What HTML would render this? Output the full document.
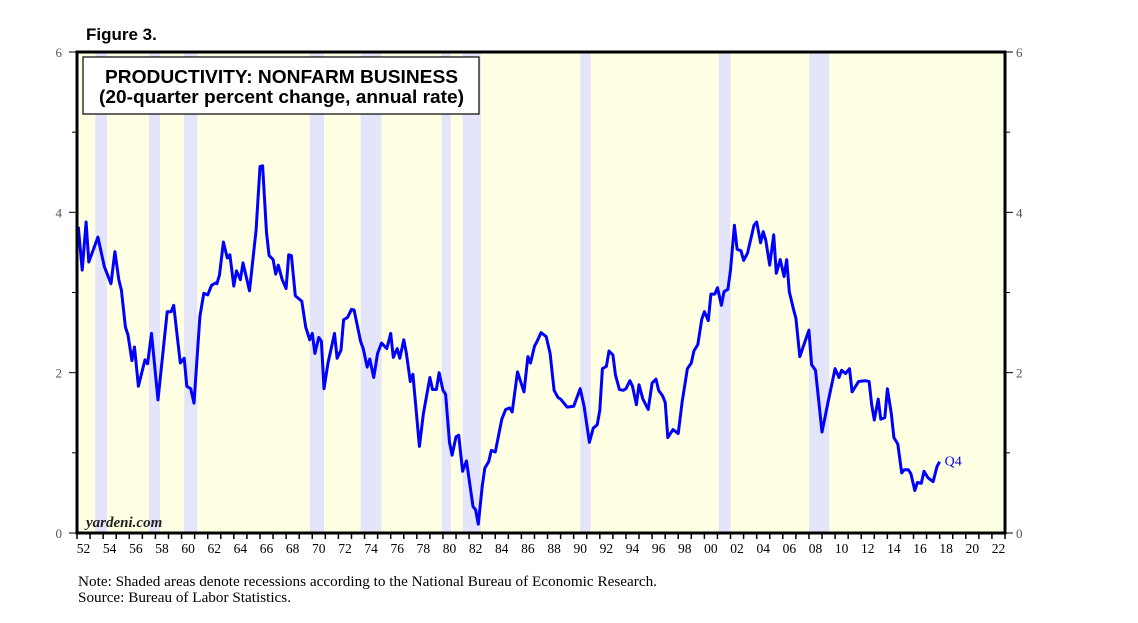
<!DOCTYPE html>
<html><head><meta charset="utf-8"><style>
body{margin:0;background:#fff;width:1138px;height:623px;overflow:hidden;font-family:"Liberation Sans",sans-serif}
svg{position:absolute;left:0;top:0}
</style></head><body>
<svg id="c" width="1138" height="623">
<text x="86" y="40" font-family="Liberation Sans" font-weight="bold" font-size="17">Figure 3.</text>
<rect x="77" y="52" width="928" height="481" fill="#ffffe4"/>
<g id="rec"></g>
<g id="axes"></g>
<polyline id="line" fill="none" stroke="#0000ff" stroke-width="3" stroke-linejoin="round"/>
<rect x="77" y="52" width="928" height="481" fill="none" stroke="#000" stroke-width="3"/>
<rect x="83" y="57" width="396" height="57" fill="#fff" stroke="#000" stroke-width="1.2"/>
<text x="105" y="83" textLength="353" lengthAdjust="spacingAndGlyphs" font-weight="bold" font-size="18">PRODUCTIVITY: NONFARM BUSINESS</text>
<text x="99" y="103" textLength="365" lengthAdjust="spacingAndGlyphs" font-weight="bold" font-size="18">(20-quarter percent change, annual rate)</text>
<text x="86" y="527" font-family="Liberation Serif" font-style="italic" font-weight="bold" font-size="15" fill="#222">yardeni.com</text>
<text id="q4" font-family="Liberation Serif" font-size="14" fill="#0000ff">Q4</text>
<text x="78" y="586" textLength="579" lengthAdjust="spacingAndGlyphs" font-family="Liberation Serif" font-size="14.5">Note: Shaded areas denote recessions according to the National Bureau of Economic Research.</text>
<text x="78" y="602" textLength="213" lengthAdjust="spacingAndGlyphs" font-family="Liberation Serif" font-size="14.5">Source: Bureau of Labor Statistics.</text>
</svg>
<script>
const years=[1952.1,1952.4,1952.7,1952.9,1953.6,1954.1,1954.6,1954.9,1955.2,1955.4,1955.7,1955.9,1956.2,1956.4,1956.7,1957.2,1957.4,1957.7,1958.2,1958.9,1959.2,1959.4,1959.9,1960.2,1960.4,1960.7,1960.95,1961.4,1961.7,1962.0,1962.3,1962.6,1962.7,1962.9,1963.2,1963.5,1963.7,1964.0,1964.2,1964.5,1964.7,1965.2,1965.7,1966.0,1966.2,1966.5,1966.7,1967.0,1967.2,1967.4,1967.7,1968.0,1968.2,1968.4,1968.7,1969.2,1969.5,1969.8,1970.0,1970.2,1970.5,1970.7,1970.9,1971.2,1971.7,1971.9,1972.2,1972.4,1972.7,1973.0,1973.2,1973.7,1973.9,1974.2,1974.4,1974.7,1975.0,1975.3,1975.7,1976.0,1976.2,1976.5,1976.7,1977.0,1977.2,1977.5,1977.7,1978.2,1978.5,1979.0,1979.2,1979.5,1979.7,1980.0,1980.2,1980.5,1980.7,1981.0,1981.2,1981.5,1981.8,1982.3,1982.5,1982.7,1983.0,1983.2,1983.5,1983.7,1984.0,1984.5,1984.8,1985.1,1985.3,1985.7,1986.2,1986.5,1986.7,1987.0,1987.2,1987.5,1987.9,1988.2,1988.5,1988.8,1989.0,1989.5,1990.0,1990.5,1990.8,1991.2,1991.5,1991.8,1992.0,1992.2,1992.5,1992.7,1993.0,1993.2,1993.5,1993.8,1994.0,1994.3,1994.5,1994.8,1995.0,1995.3,1995.7,1996.0,1996.3,1996.5,1996.8,1997.0,1997.2,1997.6,1998.0,1998.3,1998.7,1999.0,1999.2,1999.5,1999.8,2000.0,2000.3,2000.5,2000.8,2001.0,2001.3,2001.5,2001.8,2002.0,2002.3,2002.5,2002.8,2003.0,2003.3,2003.8,2004.0,2004.3,2004.5,2004.7,2005.0,2005.3,2005.5,2005.8,2006.1,2006.3,2006.5,2006.8,2007.0,2007.3,2008.0,2008.2,2008.5,2009.0,2009.5,2010.0,2010.3,2010.5,2010.8,2011.1,2011.3,2011.8,2012.3,2012.6,2012.8,2013.0,2013.3,2013.5,2013.8,2014.0,2014.3,2014.5,2014.8,2015.1,2015.3,2015.6,2015.8,2016.1,2016.3,2016.6,2016.8,2017.1,2017.5,2017.8,2018.0];
const values=[3.82,3.28,3.88,3.38,3.69,3.32,3.11,3.51,3.16,3.03,2.57,2.47,2.15,2.32,1.83,2.16,2.11,2.49,1.66,2.76,2.76,2.84,2.12,2.18,1.83,1.80,1.62,2.70,2.99,2.97,3.09,3.12,3.11,3.22,3.63,3.43,3.47,3.08,3.27,3.16,3.37,3.02,3.78,4.57,4.58,3.75,3.46,3.41,3.23,3.34,3.16,3.05,3.47,3.46,2.96,2.89,2.57,2.41,2.49,2.24,2.44,2.39,1.80,2.12,2.49,2.18,2.28,2.66,2.69,2.79,2.78,2.39,2.30,2.07,2.17,1.94,2.24,2.37,2.30,2.49,2.19,2.30,2.18,2.41,2.24,1.89,1.98,1.08,1.49,1.94,1.79,1.79,2.00,1.78,1.73,1.13,0.97,1.20,1.22,0.77,0.90,0.33,0.29,0.11,0.58,0.81,0.89,1.03,1.01,1.42,1.54,1.56,1.51,2.01,1.76,2.20,2.12,2.33,2.39,2.50,2.45,2.24,1.78,1.69,1.67,1.57,1.58,1.80,1.58,1.13,1.31,1.35,1.53,2.05,2.08,2.27,2.22,1.97,1.79,1.78,1.80,1.90,1.83,1.60,1.85,1.67,1.54,1.87,1.92,1.78,1.71,1.63,1.19,1.29,1.24,1.64,2.05,2.12,2.27,2.35,2.67,2.76,2.65,2.98,2.98,3.06,2.84,3.01,3.04,3.28,3.84,3.54,3.52,3.40,3.49,3.84,3.88,3.62,3.76,3.65,3.34,3.72,3.24,3.41,3.20,3.41,3.01,2.80,2.68,2.20,2.53,2.10,2.03,1.26,1.66,2.05,1.94,2.03,1.99,2.05,1.76,1.89,1.90,1.89,1.60,1.41,1.67,1.42,1.44,1.80,1.49,1.19,1.11,0.75,0.79,0.79,0.74,0.53,0.63,0.62,0.77,0.69,0.64,0.83,0.89];
const recStart=[1953.4,1957.5,1960.2,1969.8,1973.7,1979.9,1981.5,1990.5,2001.1,2008.0];
const recEnd=[1954.3,1958.35,1961.2,1970.9,1975.3,1980.6,1982.9,1991.3,2002.0,2009.55];
const yTicks=[0,1,2,3,4,5,6];
const yLabels=["0","","2","","4","","6"];
const xLabelYears=[];for(let y=1952;y<=2022;y+=2)xLabelYears.push(y);
const NS='http://www.w3.org/2000/svg';
const X=t=>77+(t-1952)*928/71;
const Y=v=>533-v*481/6;
function mk(tag,attrs,parent){const e=document.createElementNS(NS,tag);for(const k in attrs)e.setAttribute(k,attrs[k]);parent.appendChild(e);return e;}
const rec=document.getElementById('rec');
recStart.forEach((s,i)=>{const r=mk('rect',{x:X(s),y:52,width:X(recEnd[i])-X(s),height:481,fill:'#e4e4fa'},rec);

});
const ax=document.getElementById('axes');
yTicks.forEach((v,i)=>{const major=yLabels[i]!=="";const len=major?8:5;
let t=mk('line',{x1:77-len,x2:77,y1:Y(v),y2:Y(v),stroke:'#000','stroke-width':1},ax);

t=mk('line',{x1:1005,x2:1005+len,y1:Y(v),y2:Y(v),stroke:'#000','stroke-width':1},ax);

if(major){let l=mk('text',{x:62,y:Y(v)+5,'text-anchor':'end','font-family':'Liberation Serif','font-size':13,fill:'#555'},ax);l.textContent=yLabels[i];

l=mk('text',{x:1016,y:Y(v)+5,'font-family':'Liberation Serif','font-size':13,fill:'#555'},ax);l.textContent=yLabels[i];
}});
for(let y=1952;y<=2023;y++){const t=mk('line',{x1:X(y),x2:X(y),y1:533,y2:539,stroke:'#000','stroke-width':1.5},ax);
}
xLabelYears.forEach(y=>{const l=mk('text',{x:X(y+0.5),y:553,'text-anchor':'middle','font-family':'Liberation Serif','font-size':13.5},ax);
l.textContent=String(y%100).padStart(2,'0');
});
document.getElementById('line').setAttribute('points',years.map((t,i)=>X(t).toFixed(1)+','+Y(values[i]).toFixed(1)).join(' '));
const q=document.getElementById('q4');const n=years.length-1;
q.setAttribute('x',X(years[n])+5);q.setAttribute('y',Y(values[n])+4);
</script>
</body></html>
